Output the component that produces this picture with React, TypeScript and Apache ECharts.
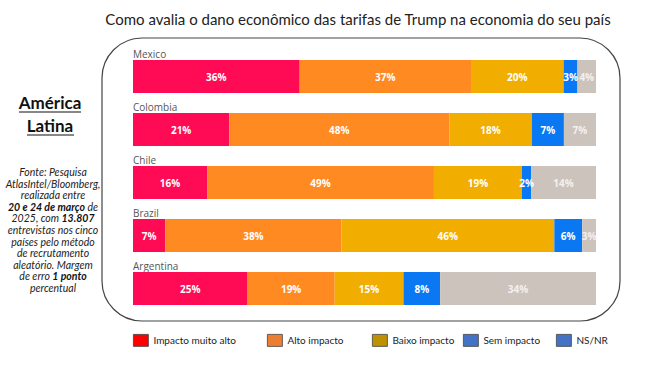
import React, { useEffect, useRef } from "react";
import * as echarts from "echarts";

const countries = ["Mexico", "Colombia", "Chile", "Brazil", "Argentina"];
const seriesNames = ["Impacto muito alto", "Alto impacto", "Baixo impacto", "Sem impacto", "NS/NR"];
const muitoAlto = [36, 21, 16, 7, 25];
const alto = [37, 48, 49, 38, 19];
const baixo = [20, 18, 19, 46, 15];
const semImpacto = [3, 7, 2, 6, 8];
const nsnr = [4, 7, 14, 3, 34];

const barColors = ["#FF0A54", "#FF8A22", "#F2AE00", "#0A78F2", "#CDC3BD"];
const legendColors = ["#FF0000", "#ED7D31", "#BF9000", "#4472C4", "#4472C4"];
const legendLeft = [133, 267, 372, 463, 556];

const sourceLines: string[] = [
  "Fonte: Pesquisa",
  "AtlasIntel/Bloomberg,",
  "realizada entre",
  "{b|20 e 24 de março} de",
  "2025, com {b|13.807}",
  "entrevistas nos cinco",
  "países pelo método",
  "de recrutamento",
  "aleatório. Margem",
  "de erro {b|1 ponto}",
  "percentual",
];

export default function App() {
  const ref = useRef<HTMLDivElement>(null);
  useEffect(() => {
    if (!ref.current) return;
    const chart = echarts.init(ref.current, null, { renderer: "svg" });
    const values = [muitoAlto, alto, baixo, semImpacto, nsnr];
    const grids: any[] = [];
    const xAxes: any[] = [];
    const yAxes: any[] = [];
    const series: any[] = [];
    countries.forEach((c, i) => {
      const total = values.reduce((s, arr) => s + arr[i], 0);
      grids.push({ left: 133, width: 463, top: 60 + i * 53, height: 33 });
      xAxes.push({ type: "value", gridIndex: i, min: 0, max: total, show: false });
      yAxes.push({
        type: "category",
        gridIndex: i,
        data: [c],
        name: c,
        nameLocation: "end",
        nameGap: 1,
        nameTextStyle: {
          align: "left",
          verticalAlign: "bottom",
          fontSize: 10,
          color: "#555",
          fontFamily: "Open Sans",
          padding: 0,
        },
        axisLine: { show: false },
        axisTick: { show: false },
        axisLabel: { show: false },
        splitLine: { show: false },
      });
      values.forEach((arr, k) => {
        series.push({
          type: "bar",
          name: seriesNames[k],
          xAxisIndex: i,
          yAxisIndex: i,
          stack: "s" + i,
          barWidth: "100%",
          data: [arr[i]],
          itemStyle: { color: barColors[k] },
          label: {
            show: true,
            position: "inside",
            formatter: "{c}%",
            color: k === 4 ? "#F4F0EE" : "#FFFFFF",
            fontWeight: "bold",
            fontSize: 10,
            fontFamily: "Open Sans",
          },
        });
      });
    });

    const legends = seriesNames.map((n, k) => ({
      left: legendLeft[k],
      top: 334,
      padding: 0,
      orient: "horizontal",
      selectedMode: false,
      itemWidth: 15,
      itemHeight: 12,
      icon: "rect",
      textStyle: { fontSize: 10, color: "#222", fontFamily: "Lato" },
      data: [
        {
          name: n,
          itemStyle: { color: legendColors[k], borderColor: "#444", borderWidth: 0.8 },
        },
      ],
    }));

    const graphics: any[] = [
      {
        type: "rect",
        shape: { x: 102, y: 38, width: 518, height: 283, r: 40 },
        style: { fill: "none", stroke: "#444", lineWidth: 1.2 },
        z: 0,
      },
      {
        type: "text",
        x: 358,
        y: 19,
        style: {
          text: "Como avalia o dano econômico das tarifas de Trump na economia do seu país",
          align: "center",
          verticalAlign: "middle",
          fontSize: 15,
          fontFamily: "Lato",
          fill: "#222",
        },
      },
      {
        type: "text",
        x: 50,
        y: 102,
        style: {
          text: "América",
          align: "center",
          verticalAlign: "middle",
          fontSize: 17,
          fontWeight: "bold",
          fontFamily: "Lato",
          fill: "#111",
        },
      },
      {
        type: "line",
        shape: { x1: 19, y1: 112, x2: 81, y2: 112 },
        style: { stroke: "#111", lineWidth: 1.2 },
      },
      {
        type: "text",
        x: 50,
        y: 125,
        style: {
          text: "Latina",
          align: "center",
          verticalAlign: "middle",
          fontSize: 17,
          fontWeight: "bold",
          fontFamily: "Lato",
          fill: "#111",
        },
      },
      {
        type: "line",
        shape: { x1: 27, y1: 135, x2: 74, y2: 135 },
        style: { stroke: "#111", lineWidth: 1.2 },
      },
    ];
    sourceLines.forEach((t, j) => {
      graphics.push({
        type: "text",
        x: 53,
        y: 172 + j * 11.6,
        style: {
          text: t,
          align: "center",
          verticalAlign: "middle",
          fontSize: 10.5,
          fontStyle: "italic",
          fontFamily: "Lato",
          fill: "#222",
          rich: {
            b: { fontSize: 10.5, fontStyle: "italic", fontWeight: "bold", fontFamily: "Lato", fill: "#111" },
          },
        },
      });
    });

    chart.setOption({
      animation: false,
      backgroundColor: "#fff",
      grid: grids,
      xAxis: xAxes,
      yAxis: yAxes,
      series,
      legend: legends,
      graphic: graphics,
    });
    return () => chart.dispose();
  }, []);
  return (
    <div
      ref={ref}
      style={{ position: "fixed", left: 0, top: 0, width: 650, height: 365 }}
    />
  );
}
